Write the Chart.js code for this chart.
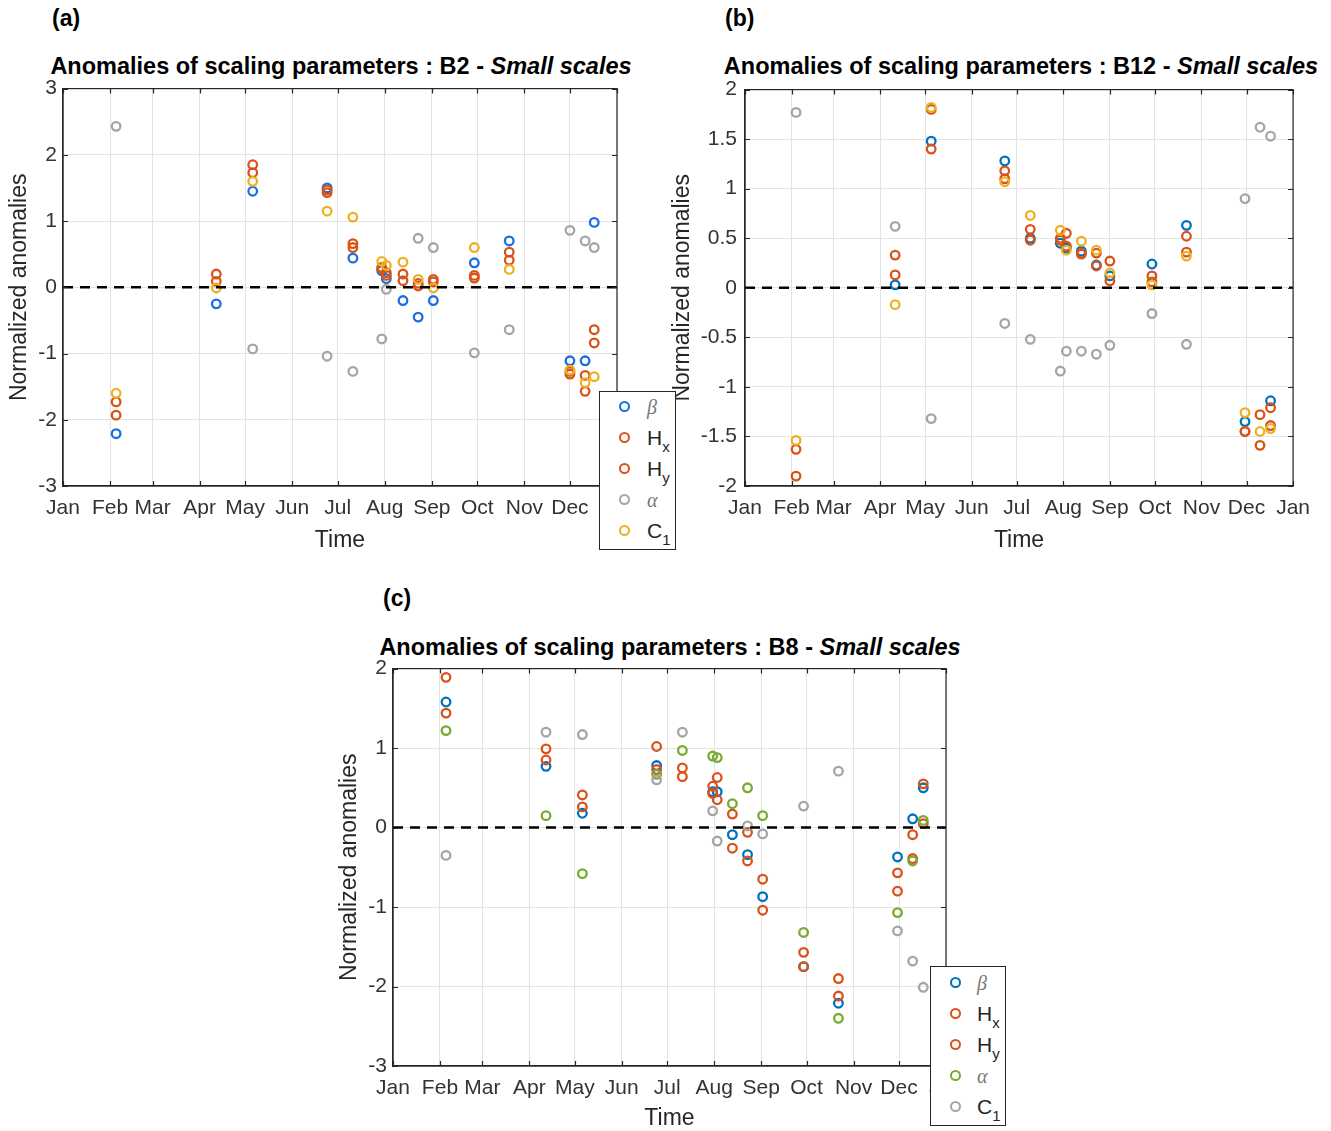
<!DOCTYPE html>
<html>
<head>
<meta charset="utf-8">
<script src="https://cdn.jsdelivr.net/npm/chart.js@4.4.1/dist/chart.umd.min.js"></script>
<style>
  body { margin: 0; background: #fff; width: 1331px; height: 1131px; overflow: hidden; position: relative;
         font-family: "Liberation Sans", Arial, sans-serif; }
  canvas { position: absolute; }
  .plabel { position: absolute; font-weight: bold; font-size: 23px; color: #000; }
  .ptitle { position: absolute; width: 700px; text-align: center; font-weight: bold; font-size: 23.5px;
            line-height: 26px; color: #000; white-space: nowrap; }
  .legend { position: absolute; background: #fff; border: 1px solid #262626; box-sizing: border-box; z-index: 5; }
  .legend .item { position: absolute; left: 0; height: 24px; line-height: 24px; font-size: 21px; color: #262626; }
  .legend .mk { position: absolute; top: 6px; width: 7px; height: 7px; border: 2px solid; border-radius: 50%; }
  .legend .txt { position: absolute; white-space: nowrap; }
  .legend sub { font-size: 15px; vertical-align: -7px; line-height: 0; }
  .legend .greek { font-family: "Liberation Serif", "DejaVu Serif", serif; font-style: italic; color: #777; font-size: 20px; }
</style>
</head>
<body>

<div class="plabel" style="left:52px;top:5px">(a)</div>
<div class="plabel" style="left:725px;top:5px">(b)</div>
<div class="plabel" style="left:383px;top:585px">(c)</div>

<div class="ptitle" style="left:-9px;top:53px">Anomalies of scaling parameters : B2 - <i>Small scales</i></div>
<div class="ptitle" style="left:671px;top:53px">Anomalies of scaling parameters : B12 - <i>Small scales</i></div>
<div class="ptitle" style="left:320px;top:634px">Anomalies of scaling parameters : B8 - <i>Small scales</i></div>

<canvas id="chartA" width="660" height="486" style="left:0px;top:70px"></canvas>
<canvas id="chartB" width="660" height="487" style="left:660px;top:69px"></canvas>
<canvas id="chartC" width="660" height="482" style="left:330px;top:650px"></canvas>

<div class="legend" id="legendA" style="left:599px;top:391px;width:77px;height:159px"></div>
<div class="legend" id="legendC" style="left:930px;top:966px;width:76px;height:160px"></div>

<script>
// x axis: day of year, ticks at the first day of each month
const monthNames = ['Jan', 'Feb', 'Mar', 'Apr', 'May', 'Jun', 'Jul', 'Aug', 'Sep', 'Oct', 'Nov', 'Dec', 'Jan'];
const monthStarts = [0, 31, 59, 90, 120, 151, 181, 212, 243, 273, 304, 334, 365];

const legendNames = ['<span class="greek">β</span>', 'H<sub>x</sub>', 'H<sub>y</sub>', '<span class="greek">α</span>', 'C<sub>1</sub>'];
const seriesNames = ['β', 'Hx', 'Hy', 'α', 'C1'];

// (a) B2 - small scales
const daysA = [35, 101, 125, 174, 191, 210, 213, 224, 234, 244, 271, 294, 334, 344, 350];
const betaA = [-2.21, -0.25, 1.45, 1.50, 0.44, 0.25, 0.13, -0.20, -0.45, -0.20, 0.37, 0.70, -1.11, -1.11, 0.98];
const hxA   = [-1.93, 0.20, 1.85, 1.47, 0.66, 0.30, 0.22, 0.20, 0.06, 0.12, 0.18, 0.53, -1.27, -1.33, -0.64];
const hyA   = [-1.73, 0.09, 1.73, 1.43, 0.60, 0.28, 0.18, 0.10, 0.02, 0.08, 0.14, 0.41, -1.31, -1.57, -0.84];
const alphaA = [2.43, null, -0.93, -1.04, -1.27, -0.78, -0.03, null, 0.74, 0.60, -0.99, -0.64, 0.86, 0.70, 0.60];
const c1A   = [-1.60, -0.01, 1.60, 1.15, 1.06, 0.39, 0.33, 0.38, 0.12, -0.01, 0.60, 0.27, -1.25, -1.44, -1.35];

// (b) B12 - small scales
const daysB = [34, 100, 124, 173, 190, 210, 214, 224, 234, 243, 271, 294, 333, 343, 350];
const betaB = [null, 0.03, 1.48, 1.28, 0.50, 0.45, 0.40, 0.37, 0.23, 0.12, 0.24, 0.63, -1.35, null, -1.14];
const hxB   = [-1.90, 0.33, 1.40, 1.18, 0.59, 0.48, 0.55, 0.34, 0.35, 0.27, 0.12, 0.52, -1.45, -1.28, -1.21];
const hyB   = [-1.63, 0.13, 1.80, 1.10, 0.48, 0.50, 0.42, 0.35, 0.22, 0.07, 0.06, 0.36, -1.45, -1.59, -1.39];
const alphaB = [1.77, 0.62, -1.32, -0.36, -0.52, -0.84, -0.64, -0.64, -0.67, -0.58, -0.26, -0.57, 0.90, 1.62, 1.53];
const c1B   = [-1.54, -0.17, 1.82, 1.07, 0.73, 0.58, 0.38, 0.47, 0.38, 0.15, 0.03, 0.32, -1.26, -1.45, -1.42];

// (c) B8 - small scales
const daysC = [35, 101, 125, 174, 191, 211, 214, 224, 234, 244, 271, 294, 333, 343, 350];
const betaC = [1.58, 0.77, 0.18, 0.78, null, 0.45, 0.45, -0.09, -0.34, -0.87, -1.75, -2.21, -0.37, 0.11, 0.50];
const hxC   = [1.89, 0.99, 0.41, 1.02, 0.75, 0.52, 0.63, 0.17, -0.06, -0.65, -1.57, -1.90, -0.57, -0.09, 0.55];
const hyC   = [1.44, 0.85, 0.26, 0.73, 0.64, 0.43, 0.35, -0.26, -0.42, -1.04, -1.75, -2.12, -0.80, -0.39, 0.05];
const alphaC = [1.22, 0.15, -0.58, 0.67, 0.97, 0.90, 0.88, 0.30, 0.50, 0.15, -1.32, -2.40, -1.07, -0.42, 0.09];
const c1C   = [-0.35, 1.20, 1.17, 0.60, 1.20, 0.21, -0.17, null, 0.02, -0.08, 0.27, 0.71, -1.30, -1.68, -2.01];

const colorsA = ['#1a6ee0', '#D95319', '#D95319', '#A5A5A5', '#EDB120'];
const colorsB = ['#0072BD', '#D95319', '#D95319', '#A5A5A5', '#EDB120'];
const colorsC = ['#0072BD', '#D95319', '#D95319', '#77AC30', '#A5A5A5'];

const FONT = '"Liberation Sans", Arial, sans-serif';

// MATLAB-like box around the axes with inward tick marks
const axesBox = {
    id: 'axesBox',
    afterDraw(chart) {
        const { ctx, chartArea: a, scales } = chart;
        ctx.save();
        ctx.strokeStyle = '#262626';
        ctx.lineWidth = 1.2;
        ctx.strokeRect(a.left, a.top, a.right - a.left, a.bottom - a.top);
        ctx.beginPath();
        scales.x.ticks.forEach(t => {
            const px = Math.round(scales.x.getPixelForValue(t.value)) + 0.5;
            ctx.moveTo(px, a.bottom); ctx.lineTo(px, a.bottom - 5);
            ctx.moveTo(px, a.top); ctx.lineTo(px, a.top + 5);
        });
        scales.y.ticks.forEach(t => {
            const py = Math.round(scales.y.getPixelForValue(t.value)) + 0.5;
            ctx.moveTo(a.left, py); ctx.lineTo(a.left + 5, py);
            ctx.moveTo(a.right, py); ctx.lineTo(a.right - 5, py);
        });
        ctx.stroke();
        ctx.restore();
    }
};

function toPoints(days, values) {
    return days.map((d, i) => ({ x: d, y: values[i] })).filter(p => p.y !== null);
}

function makePanel(canvasId, days, seriesList, colors, yMin, yMax, yStep, g) {
    const datasets = seriesList.map((vals, i) => ({
        type: 'scatter',
        label: seriesNames[i],
        data: toPoints(days, vals),
        borderColor: colors[i],
        backgroundColor: 'rgba(0,0,0,0)',
        pointRadius: 4.3,
        pointBorderWidth: 2.3,
        order: 5 - i
    }));
    // dashed zero line
    datasets.push({
        type: 'line',
        label: 'zero',
        data: [{ x: 0, y: 0 }, { x: 365, y: 0 }],
        borderColor: '#000',
        borderWidth: 2.6,
        borderDash: [10, 7],
        pointRadius: 0,
        order: 0
    });

    return new Chart(document.getElementById(canvasId), {
        type: 'scatter',
        data: { datasets: datasets },
        options: {
            responsive: false,
            animation: false,
            devicePixelRatio: 1,
            layout: { padding: { left: 0, top: 14, right: g.padR, bottom: 0 } },
            plugins: { legend: { display: false }, tooltip: { enabled: false } },
            scales: {
                x: {
                    type: 'linear', min: 0, max: 365,
                    afterBuildTicks: s => { s.ticks = monthStarts.map(v => ({ value: v })); },
                    afterFit: s => { s.height = g.xH; },
                    ticks: {
                        autoSkip: false, maxRotation: 0, padding: 10, color: '#333',
                        font: { family: FONT, size: 21 },
                        callback: v => monthNames[monthStarts.indexOf(v)]
                    },
                    grid: { color: '#e3e3e3', drawTicks: false },
                    border: { display: true, color: '#262626', width: 1.2 },
                    title: { display: true, text: 'Time', color: '#262626',
                             font: { family: FONT, size: 23 }, padding: { top: 0, bottom: g.titleB } }
                },
                y: {
                    type: 'linear', min: yMin, max: yMax,
                    afterFit: s => { s.width = g.yW; },
                    ticks: {
                        stepSize: yStep, padding: g.yPad, color: '#333',
                        font: { family: FONT, size: 21 },
                        callback: v => v.toString()
                    },
                    grid: { color: '#e3e3e3', drawTicks: false },
                    border: { display: true, color: '#262626', width: 1.2 },
                    title: { display: true, text: 'Normalized anomalies', color: '#262626',
                             font: { family: FONT, size: 23 }, padding: { top: g.yTitleP, bottom: 0 } }
                }
            }
        },
        plugins: [axesBox]
    });
}

function makeLegend(id, colors, markerX, textX, firstY, step) {
    const box = document.getElementById(id);
    legendNames.forEach((name, i) => {
        const item = document.createElement('div');
        item.className = 'item';
        item.style.top = (firstY + i * step) + 'px';
        item.innerHTML = '<span class="mk" style="left:' + markerX + 'px;border-color:' + colors[i] + '"></span>' +
                         '<span class="txt" style="left:' + textX + 'px">' + name + '</span>';
        box.appendChild(item);
    });
}

makePanel('chartA', daysA, [betaA, hxA, hyA, alphaA, c1A], colorsA, -3, 3, 1,
          { padR: 43, xH: 70, titleB: 2, yW: 63, yPad: 6, yTitleP: 6 });
makePanel('chartB', daysB, [betaB, hxB, hyB, alphaB, c1B], colorsB, -2, 2, 0.5,
          { padR: 23, xH: 70, titleB: 2, yW: 85, yPad: 8, yTitleP: 9 });
makePanel('chartC', daysC, [betaC, hxC, hyC, alphaC, c1C], colorsC, -3, 2, 1,
          { padR: 44, xH: 66, titleB: 0, yW: 63, yPad: 6, yTitleP: 6 });

makeLegend('legendA', colorsA, 19, 47, 3, 31);
makeLegend('legendC', colorsC, 19, 46, 4, 31);
</script>
</body>
</html>
